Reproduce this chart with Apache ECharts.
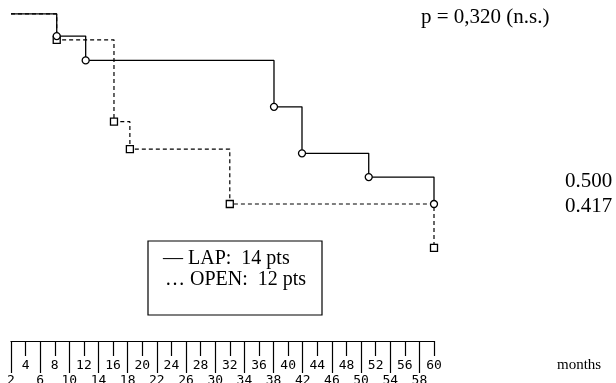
<!DOCTYPE html>
<html><head><meta charset="utf-8">
<script src="https://cdn.jsdelivr.net/npm/echarts@6/dist/echarts.min.js"></script>
<style>html,body{margin:0;padding:0;background:#fff}#c{width:616px;height:383px}</style>
</head><body><div id="c"></div>
<script>
// Kaplan-Meier style step curves (months, survival)
const lapTimes  = [2, 8.27, 12.24, 38.06, 41.9, 51.05, 60];
const lapSurv   = [0.860, 0.818, 0.772, 0.684, 0.596, 0.551, 0.500];
const openTimes = [2, 8.27, 16.12, 18.3, 32.0, 60];
const openSurv  = [0.860, 0.811, 0.656, 0.604, 0.500, 0.417];
// ruler tick labels
const upperTicks = [4, 8, 12, 16, 20, 24, 28, 32, 36, 40, 44, 48, 52, 56, 60];
const lowerTicks = [2, 6, 10, 14, 18, 22, 26, 30, 34, 38, 42, 46, 50, 54, 58];
const pText = 'p = 0,320 (n.s.)';
const endLabels = ['0.500', '0.417'];
const legendLap = '— LAP:  14 pts';
const legendOpen = '… OPEN:  12 pts';

const serif = 'Liberation Serif';
const mono = 'DejaVu Sans Mono';

function pts(t, s) { return t.map((x, i) => [x, s[i]]); }

const chart = echarts.init(document.getElementById('c'));
chart.setOption({
  animation: false,
  backgroundColor: '#fff',
  grid: [
    {left: 11, width: 423, top: 3.36, height: 253.44, outerBoundsMode: 'none', containLabel: false},
    {left: 11, width: 423, top: 300, height: 41, outerBoundsMode: 'none', containLabel: false}
  ],
  xAxis: [
    {gridIndex: 0, type: 'value', min: 2, max: 60, show: false},
    {gridIndex: 1, type: 'value', min: 2, max: 60, position: 'bottom',
      axisLine: {show: true, onZero: false, lineStyle: {color: '#000', width: 1.2}},
      axisTick: {show: true, customValues: upperTicks, length: 15, lineStyle: {color: '#000', width: 1.2}},
      axisLabel: {show: true, customValues: upperTicks, margin: 18, fontFamily: mono, fontSize: 13, color: '#000'},
      splitLine: {show: false}},
    {gridIndex: 1, type: 'value', min: 2, max: 60, position: 'bottom',
      axisLine: {show: false, onZero: false},
      axisTick: {show: true, customValues: lowerTicks, length: 32, lineStyle: {color: '#000', width: 1.2}},
      axisLabel: {show: true, customValues: lowerTicks, margin: 33, fontFamily: mono, fontSize: 13, color: '#000'},
      splitLine: {show: false}}
  ],
  yAxis: [
    {gridIndex: 0, type: 'value', min: 0.4, max: 0.88, show: false},
    {gridIndex: 1, type: 'value', min: 0, max: 1, show: false}
  ],
  series: [
    {type: 'line', name: 'OPEN', xAxisIndex: 0, yAxisIndex: 0, step: 'end',
      data: pts(openTimes, openSurv).map((p, i) => i === 0 ? {value: p, symbol: 'none'} : {value: p}),
      symbol: 'rect', symbolSize: 7, showAllSymbol: true,
      lineStyle: {color: '#000', width: 1.2, type: [4, 3]},
      itemStyle: {color: '#fff', borderColor: '#000', borderWidth: 1.3}, z: 2},
    {type: 'line', name: 'LAP', xAxisIndex: 0, yAxisIndex: 0, step: 'end',
      data: pts(lapTimes, lapSurv).map((p, i) => i === 0 ? {value: p, symbol: 'none'} : {value: p}),
      symbol: 'circle', symbolSize: 7, showAllSymbol: true,
      lineStyle: {color: '#000', width: 1.3},
      itemStyle: {color: '#fff', borderColor: '#000', borderWidth: 1.3}, z: 3}
  ],
  graphic: [
    {type: 'text', left: 421, top: 7, style: {text: pText, font: '21px "' + serif + '"', fill: '#000'}},
    {type: 'text', left: 565, top: 171, style: {text: endLabels[0], font: '21px "' + serif + '"', fill: '#000'}},
    {type: 'text', left: 565, top: 196, style: {text: endLabels[1], font: '21px "' + serif + '"', fill: '#000'}},
    {type: 'text', left: 557, top: 358, style: {text: 'months', font: '15px "' + serif + '"', fill: '#000'}},
    {type: 'rect', shape: {x: 148, y: 241, width: 174, height: 74}, style: {fill: '#fff', stroke: '#000', lineWidth: 1.2}},
    {type: 'text', x: 163, y: 259, style: {text: legendLap, font: '20px "' + serif + '"', fill: '#000', verticalAlign: 'middle'}},
    {type: 'text', x: 165, y: 280, style: {text: legendOpen, font: '20px "' + serif + '"', fill: '#000', verticalAlign: 'middle'}}
  ]
});
</script></body></html>
